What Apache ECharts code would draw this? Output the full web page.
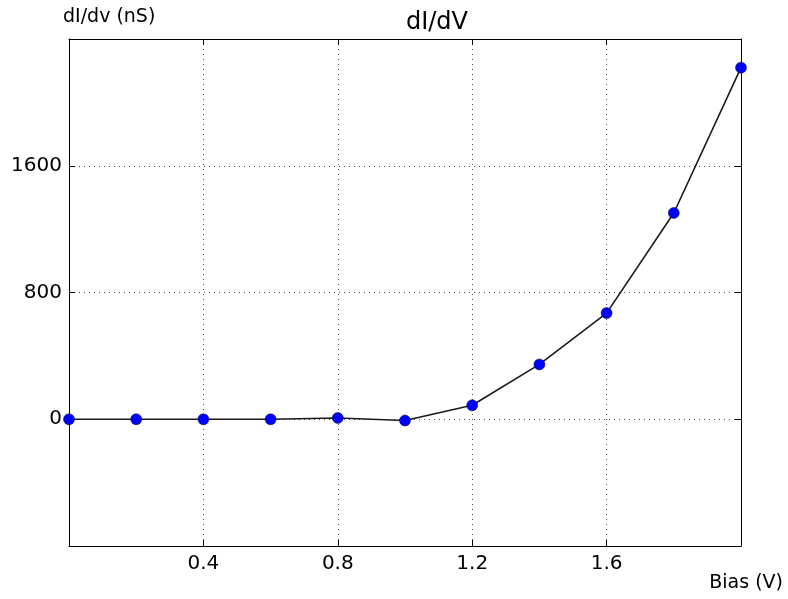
<!DOCTYPE html>
<html><head><meta charset="utf-8">
<script src="https://cdn.jsdelivr.net/npm/echarts@6/dist/echarts.min.js"></script>
<style>html,body{margin:0;padding:0;background:#fff}#c{width:788px;height:599px}</style>
</head><body><div id="c"></div>
<script>
const biasV = [0, 0.2, 0.4, 0.6, 0.8, 1.0, 1.2, 1.4, 1.6, 1.8, 2.0];
const dIdV = [0, 0, 0, 0, 8, -8, 88, 346, 670, 1302, 2219];
const xTicks = [0.4, 0.8, 1.2, 1.6];
const yTicks = [0, 800, 1600];
const F = 'DejaVu Sans';
const chart = echarts.init(document.getElementById('c'), null, {renderer:'canvas'});
const fmt2 = v => Number(v).toFixed(1);
const axisCommon = {
  axisLine:{show:true, onZero:false, lineStyle:{color:'#000', width:1}},
  axisTick:{show:true, inside:true, length:6, lineStyle:{color:'#000', width:1}},
  splitLine:{show:false}
};
chart.setOption({
  animation:false,
  backgroundColor:'#fff',
  title:{text:'dI/dV', left:432, top:6, textAlign:'center',
    textStyle:{fontFamily:F, fontSize:24, fontWeight:'normal', color:'#000'}},
  graphic:[
    {type:'text', left:63, top:8, style:{text:'dI/dv (nS)', fontFamily:F, fontSize:19, fill:'#000'}},
    {type:'text', right:5, top:574, style:{text:'Bias (V)', fontFamily:F, fontSize:19, fill:'#000'}}
  ],
  grid:{left:69, right:47, top:39, bottom:53, containLabel:false},
  xAxis:[
    Object.assign({type:'value', min:0, max:2.0, interval:0.4, position:'bottom',
      axisLabel:{fontFamily:F, fontSize:20, color:'#000', margin:8,
        formatter:v => xTicks.some(t=>Math.abs(t-v)<1e-6) ? fmt2(v) : ''},
      splitLine:{show:true, lineStyle:{color:'#000', type:[1,4], width:1, opacity:0.7}}}, 
      {axisLine:axisCommon.axisLine, axisTick:axisCommon.axisTick}),
    Object.assign({type:'value', min:0, max:2.0, interval:0.4, position:'top',
      axisLabel:{show:false}}, axisCommon)
  ],
  yAxis:[
    Object.assign({type:'value', min:-800, max:2400, interval:800, position:'left',
      axisLabel:{fontFamily:F, fontSize:20, color:'#000', margin:7,
        formatter:v => yTicks.includes(v) ? String(v) : ''},
      splitLine:{show:true, lineStyle:{color:'#000', type:[1,4], width:1, opacity:0.7}}},
      {axisLine:axisCommon.axisLine, axisTick:axisCommon.axisTick}),
    Object.assign({type:'value', min:-800, max:2400, interval:800, position:'right',
      axisLabel:{show:false}}, axisCommon)
  ],
  series:[{
    type:'line',
    data:biasV.map((x,i)=>[x, dIdV[i]]),
    xAxisIndex:0, yAxisIndex:0,
    lineStyle:{color:'#1a1a1a', width:1.6},
    symbol:'circle', symbolSize:11,
    itemStyle:{color:'#0000ff', borderColor:'#000033', borderWidth:0.5},
    clip:true
  }]
});
</script></body></html>
